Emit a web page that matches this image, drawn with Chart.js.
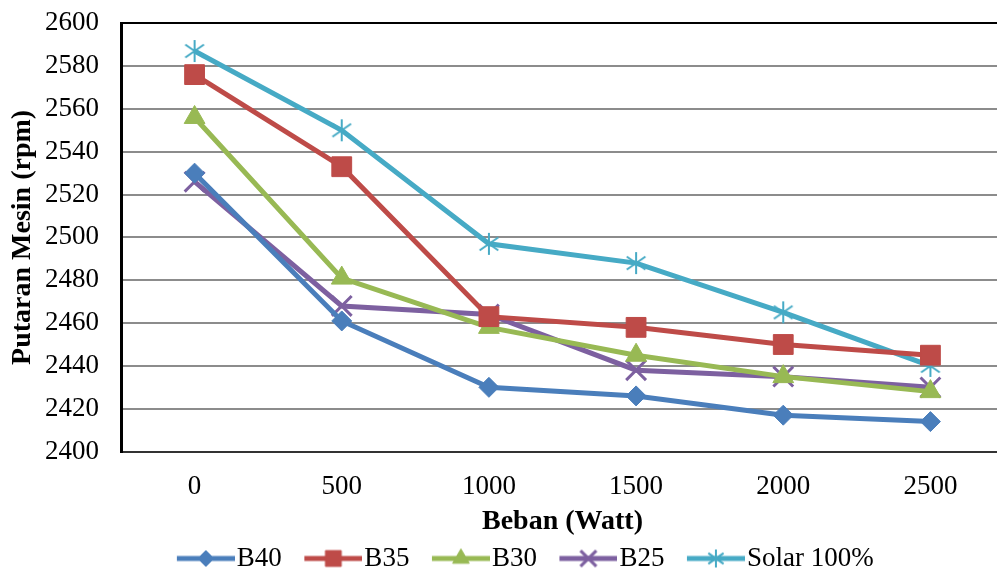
<!DOCTYPE html>
<html>
<head>
<meta charset="utf-8">
<script src="https://cdn.jsdelivr.net/npm/chart.js@4.4.1/dist/chart.umd.min.js"></script>
<style>
  html, body { margin: 0; padding: 0; background: #fff; overflow: hidden; }
  #wrap { width: 1046px; height: 597px; position: relative; margin-top: -15px; }
</style>
</head>
<body>
<div id="wrap"><canvas id="rpmChart"></canvas></div>
<script>
const categories = ["0", "500", "1000", "1500", "2000", "2500"];
const b40 = [2530, 2461, 2430, 2426, 2417, 2414];
const b35 = [2576, 2533, 2463, 2458, 2450, 2445];
const b30 = [2556, 2481, 2458, 2445, 2435, 2428];
const b25 = [2526, 2468, 2464, 2438, 2435, 2430];
const solar = [2587, 2550, 2497, 2488, 2465, 2440];
const seriesNames = ["B40", "B35", "B30", "B25", "Solar 100%"];

const colors = ["#4a7ebb", "#be4b48", "#98b954", "#7d60a0", "#46aac5"];
const FONT = "'Liberation Serif', 'Times New Roman', serif";

// asterisk marker (vertical line + X), like the spreadsheet "star"
function makeStar(color, r) {
    const c = document.createElement("canvas");
    c.width = c.height = r * 2 + 4;
    const g = c.getContext("2d");
    const m = r + 2;
    g.strokeStyle = color;
    g.lineWidth = 2;
    g.beginPath();
    g.moveTo(m, m - r); g.lineTo(m, m + r);
    const d = r * 0.85;
    g.moveTo(m - d, m - d * 0.7); g.lineTo(m + d, m + d * 0.7);
    g.moveTo(m - d, m + d * 0.7); g.lineTo(m + d, m - d * 0.7);
    g.stroke();
    return c;
}

const starMarker = makeStar(colors[4], 11);

const styles = [
    { pointStyle: "rectRot", radius: 10, borderWidth: 1 },
    { pointStyle: "rect", radius: 14, borderWidth: 1 },
    { pointStyle: "triangle", radius: 12, borderWidth: 1 },
    { pointStyle: "crossRot", radius: 14, borderWidth: 3 },
    { pointStyle: starMarker, radius: 11, borderWidth: 1 }
];

// legend swatches: a line with the marker in the middle
function makeLegendSwatch(i) {
    const c = document.createElement("canvas");
    c.width = 83; c.height = 26;
    const g = c.getContext("2d");
    g.strokeStyle = colors[i];
    g.fillStyle = colors[i];
    g.lineWidth = 5;
    g.beginPath();
    g.moveTo(25, 13); g.lineTo(83, 13);
    g.stroke();
    if (i === 4) {
        g.drawImage(makeStar(colors[4], 9), 54 - 11, 13 - 11);
    } else {
        g.lineWidth = styles[i].borderWidth;
        Chart.helpers.drawPoint(g, {
            pointStyle: styles[i].pointStyle,
            radius: styles[i].radius * 0.8,
            rotation: 0,
            borderWidth: styles[i].borderWidth
        }, 54, 13);
    }
    return c;
}

const allSeries = [b40, b35, b30, b25, solar];

const datasets = allSeries.map((vals, i) => ({
    label: seriesNames[i],
    data: vals,
    borderColor: colors[i],
    backgroundColor: colors[i],
    borderWidth: 5,
    pointStyle: styles[i].pointStyle,
    pointRadius: styles[i].radius,
    pointHoverRadius: styles[i].radius,
    pointBorderWidth: styles[i].borderWidth,
    pointBorderColor: colors[i],
    pointBackgroundColor: colors[i],
    tension: 0
}));

const ctx = document.getElementById("rpmChart").getContext("2d");

new Chart(ctx, {
    type: "line",
    data: { labels: categories, datasets: datasets },
    options: {
        responsive: true,
        maintainAspectRatio: false,
        animation: false,
        layout: { padding: { left: 33, right: 42, top: 0, bottom: 0 } },
        plugins: {
            tooltip: { enabled: false },
            legend: {
                display: true,
                position: "bottom",
                labels: {
                    usePointStyle: true,
                    pointStyleWidth: 60,
                    padding: 9,
                    color: "#000",
                    font: { family: FONT, size: 27 },
                    generateLabels: (chart) => {
                        const items = Chart.defaults.plugins.legend.labels.generateLabels(chart);
                        items.forEach((it, i) => { it.pointStyle = makeLegendSwatch(i); });
                        return items;
                    }
                }
            }
        },
        scales: {
            x: {
                offset: true,
                grid: { display: false, drawTicks: false },
                border: { display: true, color: "#333", width: 2 },
                ticks: {
                    color: "#000",
                    padding: 19,
                    font: { family: FONT, size: 27 }
                },
                title: {
                    display: true,
                    text: "Beban (Watt)",
                    color: "#000",
                    padding: { top: -14, bottom: 0 },
                    font: { family: FONT, size: 28, weight: "bold", lineHeight: 1 }
                }
            },
            y: {
                min: 2400,
                max: 2600,
                grid: {
                    drawTicks: false,
                    lineWidth: 2,
                    color: (c) => (c.tick && c.tick.value === 2600 ? "#000" : "#8c8c8c")
                },
                border: { display: true, color: "#000", width: 3 },
                ticks: {
                    stepSize: 20,
                    color: "#000",
                    padding: 22,
                    font: { family: FONT, size: 27 },
                    callback: (v) => String(v)
                },
                title: {
                    display: true,
                    text: "Putaran Mesin (rpm)",
                    color: "#000",
                    padding: { top: -24, bottom: -14 },
                    font: { family: FONT, size: 28, weight: "bold", lineHeight: 1 }
                }
            }
        }
    }
});
</script>
</body>
</html>
